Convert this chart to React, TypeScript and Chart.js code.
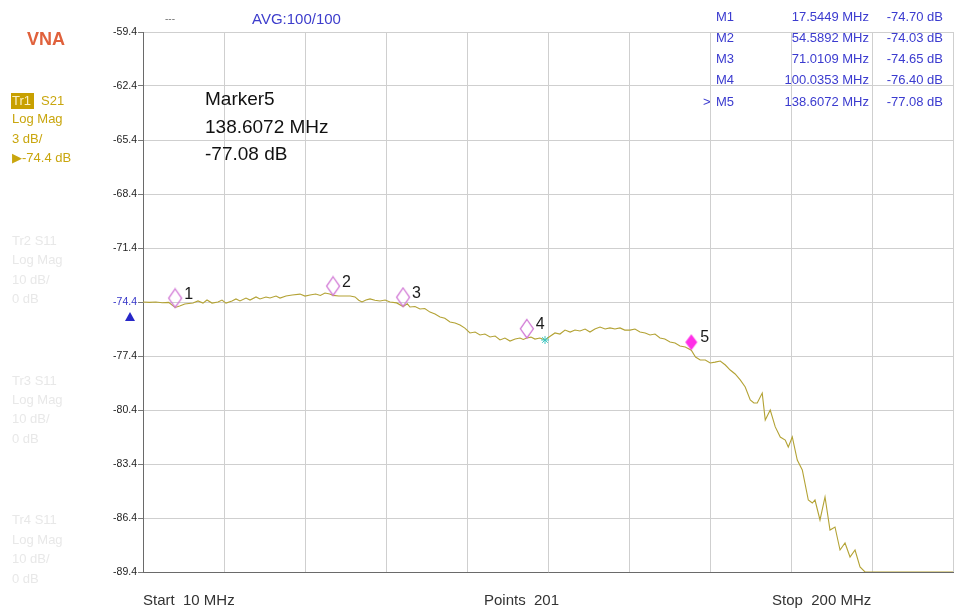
import React, { useEffect, useRef } from "react";
import { Chart, registerables } from "chart.js";
Chart.register(...registerables);

// ---- data ----
const freqMHz = [
  10.0, 11.5, 13.0, 14.5, 16.0, 17.54, 18.6, 19.8, 21.73, 22.9, 24.07, 25.01, 26.19, 27.59, 28.53, 29.47,
  30.88, 31.81, 32.75, 34.16, 35.1, 36.51, 37.44, 38.85, 39.79, 41.2, 42.14, 43.54, 45.0, 46.83, 48.0,
  49.17, 50.5, 51.6, 52.69, 53.8, 54.59, 55.9, 57.38, 58.6, 59.73, 60.6, 61.37, 62.3, 63.25, 64.4, 65.59,
  66.8, 67.94, 69.5, 71.01, 72.0, 72.63, 73.8, 74.97, 76.1, 77.32, 78.5, 79.67, 80.8, 82.01, 83.2, 84.36,
  85.5, 86.7, 87.9, 89.05, 90.2, 91.4, 92.6, 93.74, 94.9, 96.09, 97.3, 98.43, 99.2, 100.04, 101.0, 101.95,
  103.1, 104.3, 105.5, 106.64, 107.8, 108.99, 110.2, 111.33, 112.5, 113.7, 114.85, 116.0, 117.2, 118.4,
  119.54, 120.7, 121.89, 123.0, 124.23, 125.4, 126.58, 127.8, 128.93, 130.1, 131.27, 132.4, 133.62, 134.8,
  135.96, 137.2, 138.61, 139.6, 140.7, 141.9, 143.05, 144.2, 145.4, 146.6, 147.74, 148.9, 150.09, 151.26,
  152.44, 153.3, 154.08, 155.25, 155.96, 157.13, 158.31, 159.48, 160.65, 161.36, 162.3, 163.47, 164.65,
  166.06, 167.0, 167.63, 168.8, 169.98, 171.15, 172.32, 173.5, 174.67, 175.85, 177.02, 178.19, 179.37, 200.0,
];
const traceDb = [
  -74.4, -74.42, -74.4, -74.44, -74.42, -74.7, -74.62, -74.51, -74.46, -74.34, -74.46, -74.29, -74.46, -74.4,
  -74.29, -74.46, -74.34, -74.23, -74.34, -74.18, -74.29, -74.12, -74.23, -74.12, -74.18, -74.07, -74.18,
  -74.07, -74.01, -73.96, -74.07, -74.01, -73.96, -74.04, -73.9, -73.96, -74.03, -74.07, -74.07, -74.07,
  -74.12, -74.3, -74.4, -74.29, -74.23, -74.3, -74.34, -74.29, -74.4, -74.45, -74.65, -74.5, -74.68, -74.65,
  -74.79, -74.76, -74.96, -75.07, -75.23, -75.3, -75.51, -75.57, -75.68, -75.85, -76.12, -76.07, -76.23,
  -76.18, -76.34, -76.29, -76.51, -76.4, -76.57, -76.46, -76.4, -76.48, -76.4, -76.35, -76.46, -76.4, -76.51,
  -76.3, -76.12, -76.18, -75.96, -76.07, -75.96, -76.01, -75.9, -76.07, -75.9, -75.79, -75.9, -75.84, -75.9,
  -75.84, -75.96, -75.96, -75.9, -76.07, -76.12, -76.23, -76.18, -76.4, -76.46, -76.62, -76.68, -76.84,
  -76.9, -77.08, -77.46, -77.62, -77.62, -77.79, -77.74, -77.68, -77.9, -78.18, -78.4, -78.73, -79.12,
  -79.84, -80.01, -80.01, -79.46, -80.96, -80.4, -81.34, -81.9, -82.07, -82.46, -81.9, -83.18, -83.73,
  -85.4, -85.57, -85.4, -86.51, -85.23, -87.07, -86.9, -88.18, -87.79, -88.57, -88.18, -89.12, -89.4, -89.4,
];

const markerFreqs = [17.5449, 54.5892, 71.0109, 100.0353, 138.6072];
const markerDb = [-74.7, -74.03, -74.65, -76.4, -77.08];
const markerNames = ["M1", "M2", "M3", "M4", "M5"];
const markerNums = ["1", "2", "3", "4", "5"];
const activeMarker = 4;

const stimFreq = [104.3];
const stimDb = [-76.51];

const yTicks = [-59.4, -62.4, -65.4, -68.4, -71.4, -74.4, -77.4, -80.4, -83.4, -86.4, -89.4];
const xGrid = [10, 29, 48, 67, 86, 105, 124, 143, 162, 181, 200];
const refLevel = -74.4;

const FONT = "'Liberation Sans', Arial, sans-serif";

function makeDiamond(filled: boolean): HTMLCanvasElement {
  const c = document.createElement("canvas");
  c.width = 16;
  c.height = 40;
  const g = c.getContext("2d")!;
  g.beginPath();
  if (filled) {
    g.moveTo(8, 4);
    g.lineTo(14, 12);
    g.lineTo(8, 20);
    g.lineTo(2, 12);
  } else {
    g.moveTo(8, 1.5);
    g.lineTo(14.5, 10.8);
    g.lineTo(8, 20);
    g.lineTo(1.5, 10.8);
  }
  g.closePath();
  if (filled) {
    g.fillStyle = "#ff2ee6";
    g.fill();
  } else {
    g.strokeStyle = "#d27ad6";
    g.lineWidth = 1.3;
    g.stroke();
  }
  return c;
}

const overlayPlugin = {
  id: "vnaOverlay",
  afterDraw(chart: any) {
    const ctx = chart.ctx as CanvasRenderingContext2D;
    const xs = chart.scales.x;
    const ys = chart.scales.y;
    ctx.save();
    ctx.textBaseline = "middle";

    // Left panel
    ctx.fillStyle = "#e0613c";
    ctx.font = `bold 18px ${FONT}`;
    ctx.textAlign = "left";
    ctx.fillText("VNA", 27, 40);

    ctx.fillStyle = "#c8a000";
    ctx.fillRect(11, 93, 23, 16);
    ctx.font = `13px ${FONT}`;
    ctx.fillStyle = "#fbf0c4";
    ctx.fillText("Tr1", 12, 101);
    ctx.fillStyle = "#c9a60e";
    ctx.fillText("S21", 41, 101);
    ctx.fillText("Log Mag", 12, 119);
    ctx.fillText("3 dB/", 12, 139);
    ctx.fillText("\u25B6-74.4 dB", 12, 158);

    ctx.fillStyle = "#e8e8e8";
    const faded = [
      ["Tr2 S11", 241], ["Log Mag", 260], ["10 dB/", 280], ["0 dB", 299],
      ["Tr3 S11", 381], ["Log Mag", 400], ["10 dB/", 419], ["0 dB", 439],
      ["Tr4 S11", 520], ["Log Mag", 540], ["10 dB/", 559], ["0 dB", 579],
    ] as [string, number][];
    faded.forEach(([t, y]) => ctx.fillText(t, 12, y));

    // Top
    ctx.fillStyle = "#777";
    ctx.font = `10px ${FONT}`;
    ctx.fillText("---", 165, 19);
    ctx.fillStyle = "#3d3dcc";
    ctx.font = `15px ${FONT}`;
    ctx.fillText("AVG:100/100", 252, 20);

    // Marker table
    ctx.font = `13px ${FONT}`;
    ctx.fillStyle = "#3b3bcf";
    markerNames.forEach((name, i) => {
      const y = 17 + i * 21.3;
      ctx.textAlign = "left";
      ctx.fillText(name, 716, y);
      if (i === activeMarker) ctx.fillText(">", 703, y);
      ctx.textAlign = "right";
      ctx.fillText(markerFreqs[i].toFixed(4) + " MHz", 869, y);
      ctx.fillText(markerDb[i].toFixed(2) + " dB", 943, y);
    });

    // Active marker readout
    ctx.textAlign = "left";
    ctx.fillStyle = "#111";
    ctx.font = `19px ${FONT}`;
    ctx.fillText("Marker" + markerNums[activeMarker], 205, 100);
    ctx.fillText(markerFreqs[activeMarker].toFixed(4) + " MHz", 205, 128);
    ctx.fillText(markerDb[activeMarker].toFixed(2) + " dB", 205, 155);

    // Marker numbers
    ctx.font = `16px ${FONT}`;
    ctx.fillStyle = "#1a1a1a";
    markerFreqs.forEach((f, i) => {
      const px = xs.getPixelForValue(f);
      const py = ys.getPixelForValue(markerDb[i]);
      ctx.fillText(markerNums[i], px + 9, py - 13);
    });

    // Reference triangle
    const ry = ys.getPixelForValue(refLevel);
    ctx.fillStyle = "#2727c8";
    ctx.beginPath();
    ctx.moveTo(130, ry + 10);
    ctx.lineTo(135, ry + 19);
    ctx.lineTo(125, ry + 19);
    ctx.closePath();
    ctx.fill();

    // Bottom labels
    ctx.fillStyle = "#333";
    ctx.font = `15px ${FONT}`;
    ctx.fillText("Start  10 MHz", 143, 601);
    ctx.fillText("Points  201", 484, 601);
    ctx.fillText("Stop  200 MHz", 772, 601);
    ctx.restore();
  },
};

export default function App() {
  const ref = useRef<HTMLCanvasElement | null>(null);
  useEffect(() => {
    document.body.style.margin = "0";
    const canvas = ref.current!;
    const hollow = makeDiamond(false);
    const filled = makeDiamond(true);
    const chart = new Chart(canvas, {
      type: "line",
      data: {
        datasets: [
          {
            label: "S21",
            data: freqMHz.map((f, i) => ({ x: f, y: traceDb[i] })),
            borderColor: "#b3a234",
            borderWidth: 1.1,
            pointRadius: 0,
            tension: 0,
            order: 3,
          },
          {
            label: "stim",
            data: stimFreq.map((f, i) => ({ x: f, y: stimDb[i] })),
            showLine: false,
            pointStyle: "star",
            pointRadius: 4,
            borderColor: "#3cc6c0",
            borderWidth: 1,
            order: 2,
          },
          {
            label: "markers",
            data: markerFreqs.map((f, i) => ({ x: f, y: markerDb[i] })),
            showLine: false,
            pointStyle: markerFreqs.map((_, i) => (i === activeMarker ? filled : hollow)) as any,
            pointRadius: 5,
            order: 1,
          },
        ],
      },
      options: {
        responsive: false,
        animation: false,
        layout: { padding: { left: 0, top: 32, right: 6, bottom: 0 } },
        plugins: { legend: { display: false }, tooltip: { enabled: false } },
        scales: {
          x: {
            type: "linear",
            min: 10,
            max: 200,
            afterBuildTicks: (s: any) => {
              s.ticks = xGrid.map((v) => ({ value: v }));
            },
            afterFit: (s: any) => {
              s.height = 40;
            },
            ticks: { display: false },
            grid: { color: "#cfcfcf", lineWidth: 1, drawTicks: false },
            border: { color: "#6a6a6a", width: 1 },
          },
          y: {
            type: "linear",
            min: -89.4,
            max: -59.4,
            afterBuildTicks: (s: any) => {
              s.ticks = yTicks.map((v) => ({ value: v }));
            },
            afterFit: (s: any) => {
              s.width = 143;
            },
            ticks: {
              padding: 1,
              font: { family: FONT, size: 10.5 },
              color: (c: any) => (Math.abs(c.tick.value - refLevel) < 0.01 ? "#3535c8" : "#222"),
              callback: (v: any) => Number(v).toFixed(1),
            },
            grid: { color: "#cfcfcf", lineWidth: 1, tickLength: 5, tickColor: "#7a7a7a" },
            border: { color: "#6a6a6a", width: 1 },
          },
        },
      },
      plugins: [overlayPlugin],
    });
    return () => chart.destroy();
  }, []);
  return (
    <div style={{ width: 959, height: 612, background: "#fff" }}>
      <canvas ref={ref} width={959} height={612} style={{ display: "block" }} />
    </div>
  );
}
